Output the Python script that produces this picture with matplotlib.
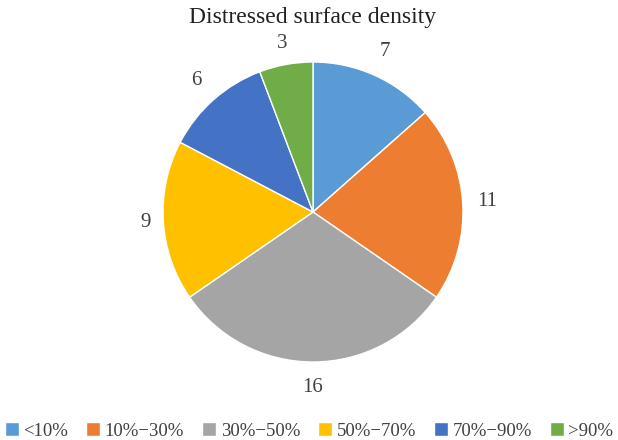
import matplotlib.pyplot as plt
import numpy as np

plt.rcParams['font.family'] = ['Liberation Serif', 'DejaVu Serif']

categories = ['<10%', '10%\u221230%', '30%\u221250%', '50%\u221270%', '70%\u221290%', '>90%']
counts = [7, 11, 16, 9, 6, 3]
colors = ['#5B9BD5', '#ED7D31', '#A5A5A5', '#FFC000', '#4472C4', '#70AD47']
label_dist = [1.17, 1.16, 1.17, 1.12, 1.17, 1.14]

fig = plt.figure(figsize=(6.18, 4.4), dpi=100)
cx, cy, r = 313, 212, 150
ax = fig.add_axes([(cx - r) / 618, (440 - cy - r) / 440, 2 * r / 618, 2 * r / 440])

wedges, texts = ax.pie(counts, colors=colors, startangle=90, counterclock=False,
                       radius=1, labels=[str(c) for c in counts],
                       wedgeprops=dict(edgecolor='white', linewidth=1),
                       textprops=dict(fontsize=15, color='#404040'))

# push each value label out along its wedge's middle angle
for w, t, d in zip(wedges, texts, label_dist):
    ang = np.deg2rad((w.theta1 + w.theta2) / 2)
    t.set_position((d * np.cos(ang), d * np.sin(ang)))
    t.set_ha('center')
    t.set_va('center')

ax.set_xlim(-1, 1)
ax.set_ylim(-1, 1)
ax.set_aspect('equal')
ax.axis('off')

fig.text(cx / 618, 1 - 18 / 440, 'Distressed surface density', ha='center', va='center',
         fontsize=17, color='#202020')

fig.legend(wedges, categories, loc='center', bbox_to_anchor=(0.5, 1 - 431 / 440), ncol=6,
           frameon=False, fontsize=13.5, handlelength=0.75, handleheight=0.75,
           handletextpad=0.25, columnspacing=0.95, borderpad=0.1, labelcolor='#404040')

fig.savefig('out.png', dpi=100)
